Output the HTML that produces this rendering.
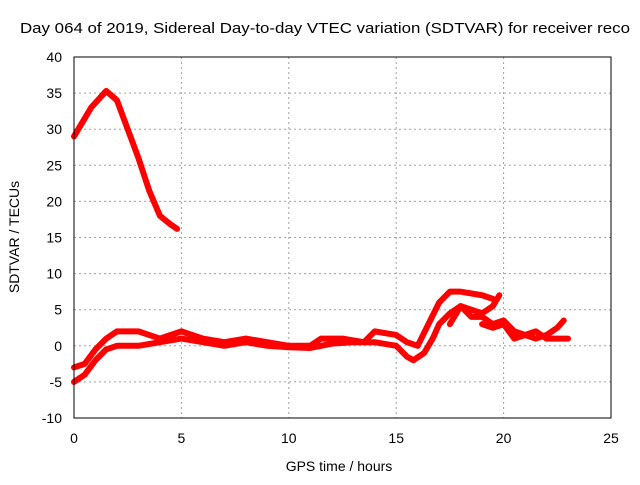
<!DOCTYPE html>
<html><head><meta charset="utf-8"><style>
body{margin:0;background:#fff;font-family:"Liberation Sans",sans-serif}
svg text{font-family:"Liberation Sans",sans-serif;font-size:14px;fill:#000}
</style></head><body>
<svg id="c" width="640" height="480">
<text x="20" y="33" textLength="610" lengthAdjust="spacingAndGlyphs" style="font-size:15px">Day 064 of 2019, Sidereal Day-to-day VTEC variation (SDTVAR) for receiver reco</text>
<g id="grid"></g>
<g id="series"></g>
<rect x="74" y="57" width="537" height="361" fill="none" stroke="#000"/>
<g id="ticks"></g>
<text x="339" y="471" text-anchor="middle">GPS time / hours</text>
<text transform="translate(19,237) rotate(-90)" text-anchor="middle">SDTVAR / TECUs</text>
</svg>
<script>
const xTicks=[0,5,10,15,20,25];
const yTicks=[-10,-5,0,5,10,15,20,25,30,35,40];
const seriesA=[[0,29],[0.3,30.5],[0.8,33],[1.5,35.3],[2,34],[2.5,30],[3,26],[3.5,21.5],[4,18],[4.5,16.8],[4.8,16.2]];
const track1=[[0,-5],[0.5,-4],[1,-2],[1.5,-0.5],[2,0],[3,0],[4,0.5],[5,1],[6,0.5],[7,0],[8,0.5],[9,0],[10,-0.2],[11,-0.3],[12,0.3],[13,0.5],[14,0.5],[15,0],[15.5,-1.5],[15.8,-2],[16.3,-1],[16.7,1],[17,3],[17.5,4.5],[18,5.5],[18.5,5],[19,4.5],[19.5,5.5],[19.8,7]];
const track2=[[0,-3],[0.5,-2.5],[1,-0.5],[1.5,1],[2,2],[3,2],[4,1],[4.5,1.5],[5,2],[6,1],[7,0.5],[8,1],[9,0.5],[10,0],[11,0],[11.5,1],[12.5,1],[13.5,0.5],[14,2],[15,1.5],[15.5,0.5],[16,0],[16.5,3],[17,6],[17.5,7.5],[18,7.5],[19,7],[19.5,6.5]];
const track3=[[17.5,3],[18,5.5],[18.5,4],[19,4],[19.5,3],[20,3.5],[20.5,2],[21,1.5],[21.5,1],[22,1.5],[22.5,2.5],[22.8,3.5]];
const track4=[[19,3],[19.5,2.5],[20,3],[20.5,1],[21,1.5],[21.5,2],[22,1],[22.5,1],[23,1]];
const X=v=>74+v*537/25, Y=v=>418-(v+10)*361/50;
const NS='http://www.w3.org/2000/svg';
const grid=document.getElementById('grid'),ticks=document.getElementById('ticks'),ser=document.getElementById('series');
function mk(tag,at,p){const e=document.createElementNS(NS,tag);for(const k in at)e.setAttribute(k,at[k]);p.appendChild(e);return e;}
xTicks.forEach(t=>{
 const l=mk('line',{x1:X(t),x2:X(t),y1:57,y2:418,stroke:'#a0a0a0','stroke-dasharray':'2,3'},grid);
 
 
 const tx=mk('text',{x:X(t),y:443,'text-anchor':'middle'},ticks);tx.textContent=t;
 
 
});
yTicks.forEach(t=>{
 const l=mk('line',{x1:74,x2:611,y1:Y(t),y2:Y(t),stroke:'#a0a0a0','stroke-dasharray':'2,3'},grid);
 
 
 const tx=mk('text',{x:62,y:Y(t)+5,'text-anchor':'end'},ticks);tx.textContent=t;
 
 
});
[seriesA,track1,track2,track3,track4].forEach((s,i)=>{
 const p=mk('polyline',{points:s.map(d=>X(d[0])+','+Y(d[1])).join(' '),fill:'none',stroke:'#f00','stroke-width':6,'stroke-linejoin':'round','stroke-linecap':'round'},ser);
 
 
});
</script>
</body></html>
